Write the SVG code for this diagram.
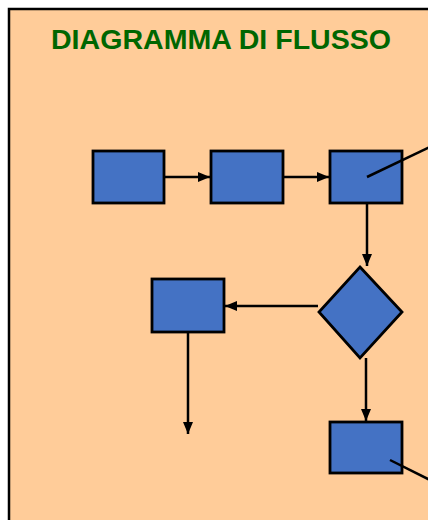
<svg xmlns="http://www.w3.org/2000/svg" width="428" height="520" viewBox="0 0 428 520">
<defs>
<style>
.n{fill:#4472C4;stroke:#000;stroke-width:2.8}
.c{stroke:#000;stroke-width:2.5;fill:none}
.a{stroke:#000;stroke-width:2.5;fill:none;marker-end:url(#ah)}
</style>
<marker id="ah" viewBox="0 0 12 10" refX="12" refY="5" markerWidth="12" markerHeight="10" markerUnits="userSpaceOnUse" orient="auto">
<path d="M0,0 L12,5 L0,10 z" fill="#000"/>
</marker>
</defs>
<rect width="428" height="520" fill="#fff"/>
<rect id="frame" x="9" y="9" width="430" height="530" fill="#FFCC99" stroke="#000" stroke-width="2.5"/>
<text x="51" y="49" font-family="Liberation Sans, Arial, sans-serif" font-weight="bold" font-size="27" fill="#006600" textLength="340" lengthAdjust="spacingAndGlyphs">DIAGRAMMA DI FLUSSO</text>
<g id="box1"><rect class="n" x="93" y="151" width="71" height="52"/></g>
<g id="box2"><rect class="n" x="211" y="151" width="72" height="52"/></g>
<g id="box3"><rect class="n" x="330" y="151" width="72" height="52"/></g>
<g id="decision"><polygon class="n" points="360,267 402,312 360,358 319,312"/></g>
<g id="box4"><rect class="n" x="152" y="279" width="72" height="53"/></g>
<g id="box5"><rect class="n" x="330" y="422" width="72" height="51"/></g>
<g id="connectors">
<line class="a" x1="165" y1="177" x2="210" y2="177"/>
<line class="a" x1="284" y1="177" x2="329" y2="177"/>
<line class="a" x1="367" y1="204" x2="367" y2="266"/>
<line class="a" x1="318" y1="306" x2="225" y2="306"/>
<line class="a" x1="188" y1="333" x2="188" y2="434"/>
<line class="a" x1="366" y1="358" x2="366" y2="421"/>
<line class="c" x1="367" y1="177" x2="430" y2="147"/>
<line class="c" x1="390" y1="460" x2="430" y2="480"/>
</g>
</svg>
